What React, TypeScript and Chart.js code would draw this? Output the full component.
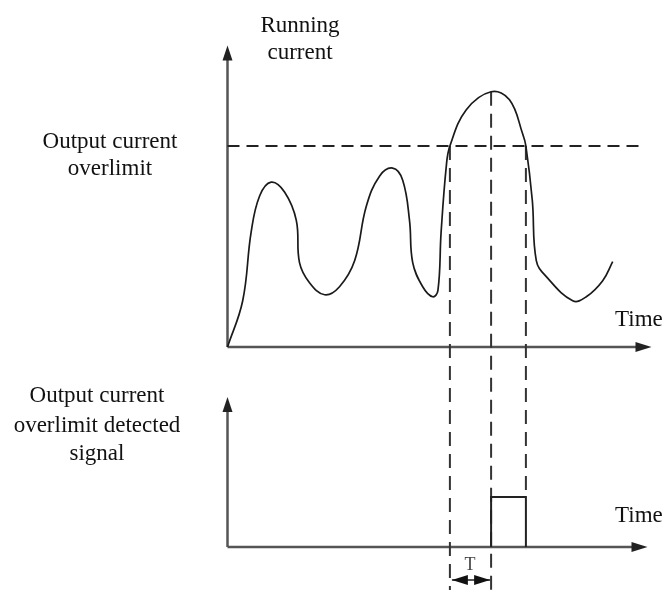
import React, { useEffect, useRef } from "react";
import { Chart, registerables } from "chart.js";

Chart.register(...registerables);

// ---- data (time in arbitrary units, current in % of overlimit level) ----
const TIME = [0, 3.8, 5.9, 8.0, 10.9, 14.3, 17.2, 18.0, 20.5, 24.3, 28.0, 31.8, 34.7, 38.0, 41.3, 43.8, 45.5, 46.3, 48.8, 51.3, 52.6, 53.4, 54.7, 55.6, 59.7, 65.9, 70.5, 73.8, 74.6, 76.2, 77.2, 79.7, 86.3, 89.7, 93.8, 96.3];
const CURRENT = [0, 23, 57, 75, 82, 77, 63, 42, 32, 26, 30, 43, 70, 85, 89, 83, 63, 42, 30, 25, 28, 57, 90, 100, 118, 127, 123, 106, 100, 73, 43, 35, 23, 25, 33, 42.5];
const THRESHOLD = 100;
const THRESHOLD_END = 103;
const T_RISE = 55.6;
const T_PEAK = 65.9;
const PEAK = 127;
const T_FALL = 74.6;
const SIGNAL_TIME = [T_PEAK, T_PEAK, T_FALL, T_FALL];
const SIGNAL = [0, 1, 1, 0];
const TOP_AXIS_TIME_END = 106;
const TOP_AXIS_CURRENT_END = 150;
const BOT_AXIS_TIME_END = 105;
const BOT_AXIS_SIGNAL_END = 3;

const W = 663;
const H = 594;

const FONT = '23px "Liberation Serif", "Times New Roman", serif';

function arrowHead(ctx: CanvasRenderingContext2D, tx: number, ty: number, dir: "up" | "right" | "left", len = 15, half = 5) {
  ctx.beginPath();
  if (dir === "up") {
    ctx.moveTo(tx, ty);
    ctx.lineTo(tx - half, ty + len);
    ctx.lineTo(tx + half, ty + len);
  } else if (dir === "right") {
    ctx.moveTo(tx, ty);
    ctx.lineTo(tx - len, ty - half);
    ctx.lineTo(tx - len, ty + half);
  } else {
    ctx.moveTo(tx, ty);
    ctx.lineTo(tx + len, ty - half);
    ctx.lineTo(tx + len, ty + half);
  }
  ctx.closePath();
  ctx.fill();
}

const diagramPlugin = {
  id: "diagram",
  beforeDatasetsDraw(chart: any) {
    const { ctx } = chart;
    const xs = chart.scales.x;
    const yc = chart.scales.y;
    const ys = chart.scales.ySig;
    ctx.save();
    // axes
    ctx.strokeStyle = "#555";
    ctx.fillStyle = "#222";
    ctx.lineWidth = 2.5;
    const x0 = xs.getPixelForValue(0);
    const yTop0 = yc.getPixelForValue(0);
    const yTopTip = yc.getPixelForValue(TOP_AXIS_CURRENT_END);
    const xTopTip = xs.getPixelForValue(TOP_AXIS_TIME_END);
    ctx.beginPath();
    ctx.moveTo(x0, yTop0);
    ctx.lineTo(x0, yTopTip + 12);
    ctx.moveTo(x0, yTop0);
    ctx.lineTo(xTopTip - 12, yTop0);
    ctx.stroke();
    arrowHead(ctx, x0, yTopTip, "up");
    arrowHead(ctx, xTopTip, yTop0, "right", 16, 5);

    const yBot0 = ys.getPixelForValue(0);
    const yBotTip = ys.getPixelForValue(BOT_AXIS_SIGNAL_END);
    const xBotTip = xs.getPixelForValue(BOT_AXIS_TIME_END);
    ctx.beginPath();
    ctx.moveTo(x0, yBot0);
    ctx.lineTo(x0, yBotTip + 12);
    ctx.moveTo(x0, yBot0);
    ctx.lineTo(xBotTip - 12, yBot0);
    ctx.stroke();
    arrowHead(ctx, x0, yBotTip, "up");
    arrowHead(ctx, xBotTip, yBot0, "right", 16, 5);

    // vertical dashed guides
    ctx.strokeStyle = "#333";
    ctx.lineWidth = 2;
    ctx.setLineDash([14, 8]);
    const guides = [
      { t: T_RISE, from: yc.getPixelForValue(THRESHOLD), to: ys.getPixelForValue(-0.86) },
      { t: T_PEAK, from: yc.getPixelForValue(PEAK), to: ys.getPixelForValue(-0.94) },
      { t: T_FALL, from: yc.getPixelForValue(THRESHOLD), to: ys.getPixelForValue(1) },
    ];
    for (const g of guides) {
      const gx = xs.getPixelForValue(g.t);
      ctx.beginPath();
      ctx.moveTo(gx, g.from);
      ctx.lineTo(gx, g.to);
      ctx.stroke();
    }
    ctx.setLineDash([]);

    // T delay arrow
    const xa = xs.getPixelForValue(T_RISE) + 2;
    const xb = xs.getPixelForValue(T_PEAK) - 1;
    const ya = ys.getPixelForValue(-0.66);
    ctx.strokeStyle = "#222";
    ctx.fillStyle = "#111";
    ctx.lineWidth = 1.5;
    ctx.beginPath();
    ctx.moveTo(xa, ya);
    ctx.lineTo(xb, ya);
    ctx.stroke();
    arrowHead(ctx, xa, ya, "left", 16, 5);
    arrowHead(ctx, xb, ya, "right", 16, 5);
    ctx.restore();
  },
  afterDatasetsDraw(chart: any) {
    const { ctx } = chart;
    ctx.save();
    ctx.fillStyle = "#111";
    ctx.font = FONT;
    ctx.textBaseline = "alphabetic";
    ctx.textAlign = "center";
    ctx.fillText("Running", 300, 32);
    ctx.fillText("current", 300, 59);
    ctx.fillText("Output current", 110, 148);
    ctx.fillText("overlimit", 110, 175);
    ctx.fillText("Output current", 97, 402);
    ctx.fillText("overlimit detected", 97, 432);
    ctx.fillText("signal", 97, 460);
    ctx.textAlign = "left";
    ctx.fillText("Time", 615, 326);
    ctx.fillText("Time", 615, 522);
    ctx.textAlign = "center";
    ctx.fillStyle = "#444";
    ctx.font = '18px "Liberation Serif", "Times New Roman", serif';
    ctx.fillText("T", 470, 570);
    ctx.restore();
  },
};

export default function App() {
  const ref = useRef<HTMLCanvasElement>(null);
  useEffect(() => {
    const originPx = 227.5;
    const xPerUnit = 4;
    const yZeroPx = 347;
    const yPerUnit = 2.01;
    const sigZeroPx = 547;
    const sigPerUnit = 50;
    const chart = new Chart(ref.current as HTMLCanvasElement, {
      type: "line",
      data: {
        datasets: [
          {
            label: "Running current",
            data: TIME.map((t, i) => ({ x: t, y: CURRENT[i] })),
            yAxisID: "y",
            borderColor: "#1a1a1a",
            borderWidth: 1.7,
            pointRadius: 0,
            tension: 0.4,
            fill: false,
          },
          {
            label: "Overlimit level",
            data: [
              { x: 0, y: THRESHOLD },
              { x: THRESHOLD_END, y: THRESHOLD },
            ],
            yAxisID: "y",
            borderColor: "#222",
            borderWidth: 1.8,
            borderDash: [12, 7],
            pointRadius: 0,
            tension: 0,
            fill: false,
          },
          {
            label: "Detected signal",
            data: SIGNAL_TIME.map((t, i) => ({ x: t, y: SIGNAL[i] })),
            yAxisID: "ySig",
            borderColor: "#222",
            borderWidth: 2,
            pointRadius: 0,
            tension: 0,
            fill: false,
          },
        ] as any,
      },
      options: {
        animation: false,
        responsive: false,
        maintainAspectRatio: false,
        layout: { padding: 0 },
        plugins: { legend: { display: false }, tooltip: { enabled: false }, title: { display: false } },
        events: [],
        scales: {
          x: { type: "linear", display: false, min: -originPx / xPerUnit, max: (W - originPx) / xPerUnit },
          y: { type: "linear", display: false, min: -(H - yZeroPx) / yPerUnit, max: yZeroPx / yPerUnit },
          ySig: { type: "linear", display: false, min: -(H - sigZeroPx) / sigPerUnit, max: sigZeroPx / sigPerUnit },
        },
      } as any,
      plugins: [diagramPlugin],
    });
    return () => chart.destroy();
  }, []);
  return (
    <div style={{ position: "absolute", left: 0, top: 0, width: W, height: H, background: "#fff" }}>
      <canvas ref={ref} width={W} height={H} style={{ display: "block", width: W, height: H }} />
    </div>
  );
}
